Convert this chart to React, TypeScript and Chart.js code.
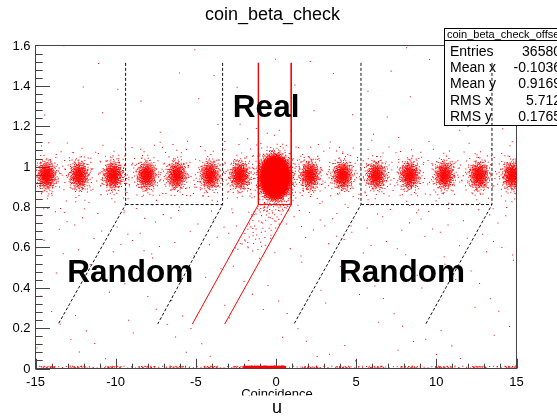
import { useEffect, useRef } from "react";
import { Chart, registerables } from "chart.js";

Chart.register(...registerables);

const W = 557;
const H = 416;
const FONT = '"Liberation Sans", Arial, Helvetica, sans-serif';

// ---- axes ----
const xRange = [-15, 15];
const yRange = [0, 1.6];
const xMajorTicks = [-15, -10, -5, 0, 5, 10, 15];
const xTickLabels = ["-15", "-10", "-5", "0", "5", "10", "15"];
const xMinorStep = 1;
const yMajorTicks = [0, 0.2, 0.4, 0.6, 0.8, 1, 1.2, 1.4, 1.6];
const yTickLabels = ["0", "0.2", "0.4", "0.6", "0.8", "1", "1.2", "1.4", "1.6"];
const yMinorStep = 0.04;

// ---- beam-bucket peaks in the coincidence time spectrum ----
const peakTime = [-14.3, -12.27, -10.15, -8.07, -6.2, -4.12, -2.25, -0.05, 2.12, 4.16, 6.25, 8.33, 10.51, 12.66, 14.75];
const peakBeta = [0.957, 0.957, 0.957, 0.956, 0.957, 0.957, 0.956, 0.948, 0.957, 0.957, 0.956, 0.957, 0.957, 0.956, 0.957];
const peakCount = [560, 520, 580, 540, 500, 540, 560, 23000, 540, 580, 520, 540, 520, 540, 580];
const peakWidthT = [0.29, 0.29, 0.29, 0.29, 0.29, 0.29, 0.29, 0.33, 0.29, 0.29, 0.29, 0.29, 0.29, 0.29, 0.29];
const peakWidthBeta = [0.033, 0.033, 0.033, 0.033, 0.033, 0.033, 0.033, 0.037, 0.033, 0.033, 0.033, 0.033, 0.033, 0.033, 0.033];
const peakHalo = [0.09, 0.09, 0.09, 0.09, 0.09, 0.09, 0.09, 0.012, 0.09, 0.09, 0.09, 0.09, 0.09, 0.09, 0.09];

// entries in the underflow row (beta ~ 0)
const zeroRowCore = [-2.0, 0.6, 380]; // tMin, tMax, count
const zeroRowFlat = 170;
const zeroRowPerPeak = 14;

// flat background: [tMin, tMax, betaMin, betaMax, count]
const flatBackground = [
  [-15, 15, 0.55, 0.8, 90],
  [-15, 15, 0.03, 0.55, 80],
  [-15, 15, 1.12, 1.6, 38],
];
// accidental band under the real-coincidence peak: [tMin, tMax, betaTop, betaBottom, count]
const realTailBand = [-1.1, 0.9, 0.815, 0.58, 90];

// ---- selection cuts ----
const cutTop = 1.514;
const cutKnee = 0.812;
const cutFoot = 0.22;
const randomLeftEdges = [-9.38, -3.33];
const randomLeftFeet = [-13.58, -7.38];
const realEdges = [-1.1, 0.95];
const realFeet = [-5.22, -3.2];
const randomRightEdges = [5.3, 13.47];
const randomRightFeet = [1.12, 9.34];

// ---- labels ----
const titleText = "coin_beta_check";
const xTitle = "Coincidence";
const unitText = "u";
const regionLabels = [
  { text: "Real", t: -2.69, beta: 1.246 },
  { text: "Random", t: -13.02, beta: 0.427 },
  { text: "Random", t: 3.93, beta: 0.427 },
];
const statsTitle = "coin_beta_check_offset";
const statNames = ["Entries", "Mean x", "Mean y", "RMS x", "RMS y"];
const statValues = ["36580", "-0.1036", "0.9169", "5.712", "0.1765"];

// low-discrepancy sampler used to lay out the scatter entries
function halton(i: number, b: number) {
  let f = 1;
  let r = 0;
  while (i > 0) {
    f /= b;
    r += f * (i % b);
    i = Math.floor(i / b);
  }
  return r;
}

type P = { x: number; y: number };

function buildHits(): P[] {
  const out: P[] = [];
  let k = 1;
  const gauss = (cx: number, cy: number, sx: number, sy: number, n: number) => {
    for (let j = 0; j < n; j++, k++) {
      const u = halton(k, 2);
      const v = halton(k, 3);
      const r = Math.sqrt(-2 * Math.log(1 - u * 0.9999));
      const a = 2 * Math.PI * v;
      out.push({ x: cx + sx * r * Math.cos(a), y: cy + sy * r * Math.sin(a) });
    }
  };
  const flat = (x0: number, x1: number, y0: number, y1: number, n: number) => {
    for (let j = 0; j < n; j++, k++) {
      out.push({ x: x0 + (x1 - x0) * halton(k, 5), y: y0 + (y1 - y0) * halton(k, 7) });
    }
  };

  peakTime.forEach((t, i) => {
    const n = peakCount[i];
    const nHalo = Math.round(n * peakHalo[i]);
    gauss(t, peakBeta[i], peakWidthT[i], peakWidthBeta[i], n - nHalo);
    gauss(t, peakBeta[i], peakWidthT[i] * 2.6, peakWidthBeta[i] * 2.4, nHalo);
    // a few of each bucket end up in the beta ~ 0 row
    flat(t - 0.5, t + 0.5, 0.002, 0.012, i === 7 ? 0 : zeroRowPerPeak);
  });

  flat(zeroRowCore[0], zeroRowCore[1], 0.002, 0.012, zeroRowCore[2]);
  flat(xRange[0], xRange[1], 0.002, 0.012, zeroRowFlat);

  flatBackground.forEach(([x0, x1, y0, y1, n]) => flat(x0, x1, y0, y1, n));

  // sheared band below the real box, denser near its top
  const [t0, t1, bTop, bBot, nBand] = realTailBand;
  const shear = (realEdges[0] - realFeet[0]) / (cutKnee - cutFoot);
  for (let j = 0; j < nBand; j++, k++) {
    const s = halton(k, 2);
    const b = bTop - (bTop - bBot) * s * s;
    const t = t0 + (t1 - t0) * halton(k, 3) - (bTop - b) * shear;
    out.push({ x: t, y: b });
  }
  return out;
}

function cutLines(edges: number[], feet: number[]) {
  return [
    [
      { x: edges[0], y: cutTop },
      { x: edges[0], y: cutKnee },
      { x: feet[0], y: cutFoot },
    ],
    [
      { x: edges[1], y: cutTop },
      { x: edges[1], y: cutKnee },
      { x: feet[1], y: cutFoot },
    ],
    [
      { x: edges[0], y: cutKnee },
      { x: edges[1], y: cutKnee },
    ],
  ];
}

const framePlugin = {
  id: "rootFrame",
  beforeDatasetsDraw(chart: any) {
    const { ctx, chartArea: a, scales } = chart;
    const xs = scales.x;
    const ys = scales.y;
    ctx.save();
    ctx.strokeStyle = "#444";
    ctx.lineWidth = 1;
    ctx.strokeRect(a.left, a.top, a.right - a.left, a.bottom - a.top);

    const tickY = 0.03 * (a.right - a.left);
    const tickX = 0.03 * (a.bottom - a.top);
    ctx.beginPath();
    for (let v = yRange[0]; v <= yRange[1] + 1e-9; v += yMinorStep) {
      const py = Math.round(ys.getPixelForValue(v)) + 0.5;
      const major = yMajorTicks.some((m) => Math.abs(m - v) < 1e-6);
      ctx.moveTo(a.left, py);
      ctx.lineTo(a.left + (major ? tickY : tickY / 2), py);
    }
    for (let v = xRange[0]; v <= xRange[1] + 1e-9; v += xMinorStep) {
      const px = Math.round(xs.getPixelForValue(v)) + 0.5;
      const major = xMajorTicks.some((m) => Math.abs(m - v) < 1e-6);
      ctx.moveTo(px, a.bottom);
      ctx.lineTo(px, a.bottom - (major ? tickX : tickX / 2));
    }
    ctx.stroke();

    ctx.fillStyle = "#000";
    ctx.font = `13px ${FONT}`;
    ctx.textAlign = "right";
    ctx.textBaseline = "middle";
    yMajorTicks.forEach((v, i) => {
      ctx.fillText(yTickLabels[i], a.left - 5, ys.getPixelForValue(v) + 0.5);
    });
    ctx.textAlign = "center";
    ctx.textBaseline = "alphabetic";
    xMajorTicks.forEach((v, i) => {
      ctx.fillText(xTickLabels[i], xs.getPixelForValue(v), 386);
    });

    ctx.font = `18px ${FONT}`;
    ctx.fillText(titleText, 272.5, 19.5);

    ctx.save();
    ctx.beginPath();
    ctx.rect(0, 380, W, 15.5);
    ctx.clip();
    ctx.font = `13px ${FONT}`;
    ctx.fillText(xTitle, 277, 398);
    ctx.restore();

    ctx.font = `18px ${FONT}`;
    ctx.fillText(unitText, 277, 413);
    ctx.restore();
  },
  afterDatasetDraw(chart: any, args: any) {
    if (args.meta.type !== "scatter") return;
    const ctx = chart.ctx;
    ctx.save();
    ctx.fillStyle = "#fff";
    ctx.fillRect(444.5, 28.5, 130, 97);
    ctx.strokeStyle = "#000";
    ctx.lineWidth = 1;
    ctx.strokeRect(444.5, 28.5, 130, 97);
    ctx.beginPath();
    ctx.moveTo(444.5, 40.5);
    ctx.lineTo(W, 40.5);
    ctx.stroke();
    ctx.fillStyle = "#000";
    ctx.font = `11px ${FONT}`;
    ctx.textAlign = "left";
    ctx.fillText(statsTitle, 447, 38);
    ctx.font = `14px ${FONT}`;
    statNames.forEach((name, i) => {
      const by = 55.5 + 16.4 * i;
      ctx.textAlign = "left";
      ctx.fillText(name, 450, by);
      ctx.textAlign = "right";
      ctx.fillText(statValues[i], 561, by);
    });
    ctx.restore();
  },
  afterDatasetsDraw(chart: any) {
    const { ctx, scales } = chart;
    ctx.save();
    ctx.fillStyle = "#000";
    ctx.font = `bold 31.5px ${FONT}`;
    ctx.textAlign = "left";
    ctx.textBaseline = "alphabetic";
    regionLabels.forEach((l) => {
      ctx.fillText(l.text, scales.x.getPixelForValue(l.t), scales.y.getPixelForValue(l.beta));
    });
    ctx.restore();
  },
};

export default function App() {
  const ref = useRef<HTMLCanvasElement>(null);
  useEffect(() => {
    const hits = buildHits();
    const dashed = [...cutLines(randomLeftEdges, randomLeftFeet), ...cutLines(randomRightEdges, randomRightFeet)];
    const solid = cutLines(realEdges, realFeet);
    const lineSets: any[] = [
      ...dashed.map((d) => ({
        type: "line",
        data: d,
        borderColor: "#111",
        borderWidth: 1,
        borderDash: [3, 2],
        pointRadius: 0,
        fill: false,
        tension: 0,
        order: 0,
      })),
      ...solid.map((d) => ({
        type: "line",
        data: d,
        borderColor: "#ff0000",
        borderWidth: 1,
        pointRadius: 0,
        fill: false,
        tension: 0,
        order: 0,
      })),
    ];
    const chart = new Chart(ref.current!, {
      type: "scatter",
      data: {
        datasets: [
          {
            type: "scatter",
            label: "hits",
            data: hits,
            pointStyle: "rect",
            pointRadius: 0.72,
            borderWidth: 0,
            backgroundColor: "#ff0000",
            order: 1,
          } as any,
          ...lineSets,
        ],
      },
      options: {
        responsive: false,
        animation: false,
        devicePixelRatio: 1,
        events: [],
        layout: { padding: { left: 35.5, right: 40.5, top: 45.5, bottom: 47.5 } },
        scales: {
          x: { type: "linear", min: xRange[0], max: xRange[1], display: false },
          y: { type: "linear", min: yRange[0], max: yRange[1], display: false },
        },
        plugins: { legend: { display: false }, tooltip: { enabled: false }, title: { display: false } },
      },
      plugins: [framePlugin],
    } as any);
    return () => chart.destroy();
  }, []);
  return (
    <div style={{ position: "fixed", left: 0, top: 0, width: W, height: H, background: "#fff" }}>
      <canvas ref={ref} width={W} height={H} style={{ display: "block", width: W, height: H }} />
    </div>
  );
}
